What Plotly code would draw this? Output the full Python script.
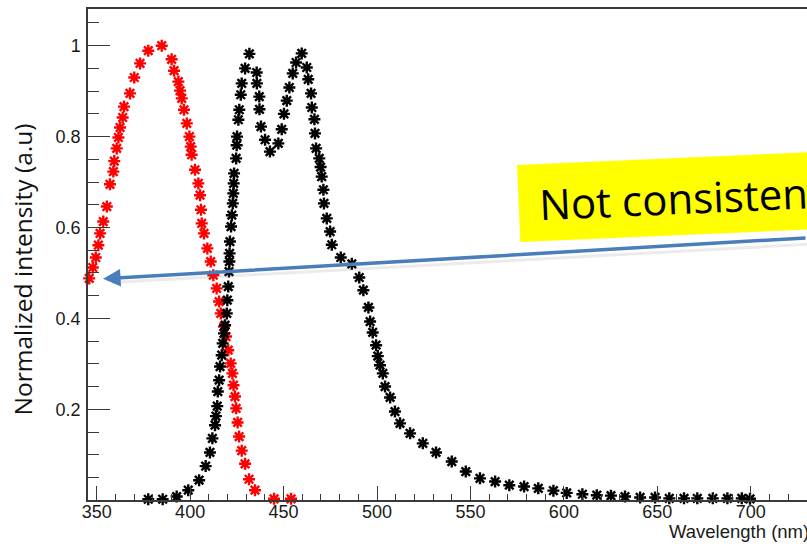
import plotly.graph_objects as go

# ---------------- data ----------------
red_wl = [346.0, 347.9, 349.5, 350.9, 351.8, 353.5, 355.4, 357.1, 358.9, 359.4,
          360.7, 361.6, 362.5, 363.9, 364.6, 367.8, 370.1, 373.2, 377.6, 384.8,
          390.1, 391.4, 393.7, 394.6, 395.5, 396.7, 398.2, 399.6, 400.3, 400.8,
          402.6, 404.4, 405.3, 405.8, 406.2, 407.4, 409.2, 411.0, 412.4, 414.2,
          415.5, 416.4, 418.1, 419.2, 420.4, 421.7, 422.6, 423.2, 424.0, 424.6,
          425.4, 426.2, 427.6, 429.4, 431.5, 434.7, 444.9, 454.0]
red_int = [0.488, 0.512, 0.534, 0.561, 0.587, 0.613, 0.646, 0.695, 0.723, 0.746,
           0.774, 0.798, 0.820, 0.842, 0.866, 0.895, 0.930, 0.961, 0.989, 1.000,
           0.970, 0.945, 0.921, 0.901, 0.884, 0.859, 0.829, 0.800, 0.778, 0.760,
           0.727, 0.697, 0.671, 0.639, 0.609, 0.587, 0.554, 0.525, 0.495, 0.466,
           0.437, 0.411, 0.382, 0.360, 0.330, 0.301, 0.279, 0.253, 0.228, 0.202,
           0.171, 0.140, 0.109, 0.080, 0.046, 0.022, 0.003, 0.003]

black_wl = [377.6, 385.3, 392.8, 399.0, 404.8, 408.3, 410.6, 411.9, 413.3, 413.8,
            414.5, 414.8, 415.5, 416.0, 416.9, 417.4, 418.1, 418.7, 419.6, 419.9,
            420.4, 420.8, 421.0, 421.1, 421.3, 421.9, 422.3, 422.8, 423.1, 423.3,
            423.5, 424.6, 424.9, 425.1, 425.8, 426.3, 427.1, 427.6, 429.4, 431.7,
            435.6, 435.7, 437.0, 437.1, 437.9, 440.1, 442.7, 447.2, 449.0, 450.2,
            451.7, 453.1, 454.9, 456.7, 459.7, 462.4, 463.2, 464.7, 465.1, 466.5,
            466.8, 467.4, 469.1, 469.8, 470.4, 471.3, 471.6, 473.1, 474.9, 475.8,
            480.6, 486.5, 490.5, 492.7, 495.4, 496.3, 497.7, 499.5, 500.4, 501.6,
            503.1, 504.3, 507.0, 509.6, 512.3, 517.7, 524.5, 531.6, 540.0, 547.5,
            555.1, 563.2, 570.8, 578.7, 586.3, 594.4, 601.5, 609.9, 617.6, 625.2,
            632.7, 640.8, 648.8, 656.4, 664.3, 671.4, 679.7, 687.5, 695.2, 699.6]
black_int = [0.002, 0.002, 0.008, 0.022, 0.044, 0.075, 0.105, 0.136, 0.165, 0.185,
             0.207, 0.239, 0.264, 0.294, 0.319, 0.345, 0.367, 0.385, 0.411, 0.440,
             0.470, 0.503, 0.525, 0.543, 0.569, 0.602, 0.627, 0.653, 0.675, 0.697,
             0.719, 0.752, 0.781, 0.800, 0.837, 0.859, 0.892, 0.917, 0.950, 0.982,
             0.941, 0.917, 0.888, 0.860, 0.822, 0.793, 0.767, 0.785, 0.816, 0.850,
             0.879, 0.908, 0.939, 0.963, 0.983, 0.952, 0.926, 0.895, 0.864, 0.838,
             0.807, 0.774, 0.752, 0.733, 0.712, 0.683, 0.653, 0.620, 0.591, 0.562,
             0.534, 0.520, 0.490, 0.462, 0.424, 0.393, 0.369, 0.341, 0.317, 0.297,
             0.279, 0.250, 0.226, 0.195, 0.169, 0.147, 0.125, 0.105, 0.085, 0.063,
             0.048, 0.041, 0.033, 0.030, 0.026, 0.021, 0.016, 0.013, 0.011, 0.010,
             0.008, 0.006, 0.006, 0.004, 0.004, 0.004, 0.004, 0.004, 0.004, 0.003]

x_tickvals = [350, 400, 450, 500, 550, 600, 650, 700]
y_tickvals = [0.2, 0.4, 0.6, 0.8, 1.0]
y_ticktext = ["0.2", "0.4", "0.6", "0.8", "1"]

x_title = "Wavelength (nm)"
y_title = "Normalized intensity (a.u)"
note_text = "Not consistent"

# ---------------- layout geometry ----------------
W, H = 807, 544
ML, MR, MT, MB = 88, 0, 9, 44
PW, PH = W - ML - MR, H - MT - MB


def paper(px, py):
    return (px - ML) / PW, (H - MB - py) / PH


axis_col = "#3a3a3a"
tick_font = dict(family="Liberation Sans, Arial, sans-serif", size=18, color="#1a1a1a")

fig = go.Figure()

marker_common = dict(symbol="asterisk-open", size=10)
fig.add_trace(go.Scatter(x=red_wl, y=red_int, mode="markers", cliponaxis=False,
                         marker=dict(**marker_common, color="red",
                                     line=dict(color="red", width=2.4)),
                         showlegend=False))
fig.add_trace(go.Scatter(x=black_wl, y=black_int, mode="markers", cliponaxis=False,
                         marker=dict(**marker_common, color="black",
                                     line=dict(color="black", width=2.4)),
                         showlegend=False))

fig.update_layout(
    width=W, height=H,
    margin=dict(l=ML, r=MR, t=MT, b=MB, pad=0),
    paper_bgcolor="white", plot_bgcolor="white",
    showlegend=False,
    xaxis=dict(range=[345.34, 730.1], showgrid=False, zeroline=False,
               showline=True, linecolor=axis_col, linewidth=1.5, mirror=True,
               ticks="inside", ticklen=14, tickwidth=1.3, tickcolor=axis_col,
               tickvals=x_tickvals, tickfont=tick_font, ticklabelstandoff=-5,
               minor=dict(ticks="inside", ticklen=6, tickwidth=1.3, tickcolor=axis_col,
                          dtick=10, tick0=350, showgrid=False)),
    yaxis=dict(range=[0.0004, 1.0807], showgrid=False, zeroline=False,
               showline=True, linecolor=axis_col, linewidth=1.5,
               ticks="inside", ticklen=22, tickwidth=1.3, tickcolor=axis_col,
               tickvals=y_tickvals, ticktext=y_ticktext, tickfont=tick_font,
               ticklabelstandoff=2,
               minor=dict(ticks="inside", ticklen=11, tickwidth=1.3, tickcolor=axis_col,
                          dtick=0.05, tick0=0, showgrid=False)),
)

# axis titles
tx, ty = paper(811, 531)
fig.add_annotation(xref="paper", yref="paper", x=tx, y=ty, xanchor="right", yanchor="middle",
                   text=x_title, showarrow=False,
                   font=dict(family="Liberation Sans, Arial, sans-serif", size=18.5, color="#1a1a1a"))
yx, yy = paper(21.5, 270)
fig.add_annotation(xref="paper", yref="paper", x=yx, y=yy, xanchor="center", yanchor="middle",
                   text=y_title, showarrow=False, textangle=-90,
                   font=dict(family="Open Sans, sans-serif", size=24.5, color="#111"))

# yellow note box (rotated rectangle, running off the right edge)
corners = [paper(517, 165), paper(840, 150.9), paper(843.5, 228), paper(520.4, 242)]
path = "M " + " L ".join(f"{cx},{cy}" for cx, cy in corners) + " Z"
fig.add_shape(type="path", xref="paper", yref="paper", path=path,
              fillcolor="#FFFF00", line=dict(width=0), layer="above")

nx, ny = paper(681, 197)
fig.add_annotation(xref="paper", yref="paper", x=nx, y=ny, xanchor="center", yanchor="middle",
                   text=note_text, showarrow=False, textangle=-2.5,
                   font=dict(family="Open Sans, sans-serif", size=42, color="black"))

# faint shadow under the arrow
s0x, s0y = paper(112, 282.5)
s1x, s1y = paper(840, 242.5)
fig.add_shape(type="line", xref="paper", yref="paper", x0=s0x, y0=s0y, x1=s1x, y1=s1y,
              line=dict(color="rgba(120,120,120,0.15)", width=3), layer="above")

# blue arrow pointing to the first red point
tip_x, tip_y = 353.4, 0.487
fig.add_annotation(x=tip_x, y=tip_y, xref="x", yref="y", text="",
                   showarrow=True, arrowhead=2, arrowsize=1, arrowwidth=3.5,
                   arrowcolor="#4A7EBB", ax=730, ay=-41, axref="pixel", ayref="pixel")

fig.write_html("out.html")
